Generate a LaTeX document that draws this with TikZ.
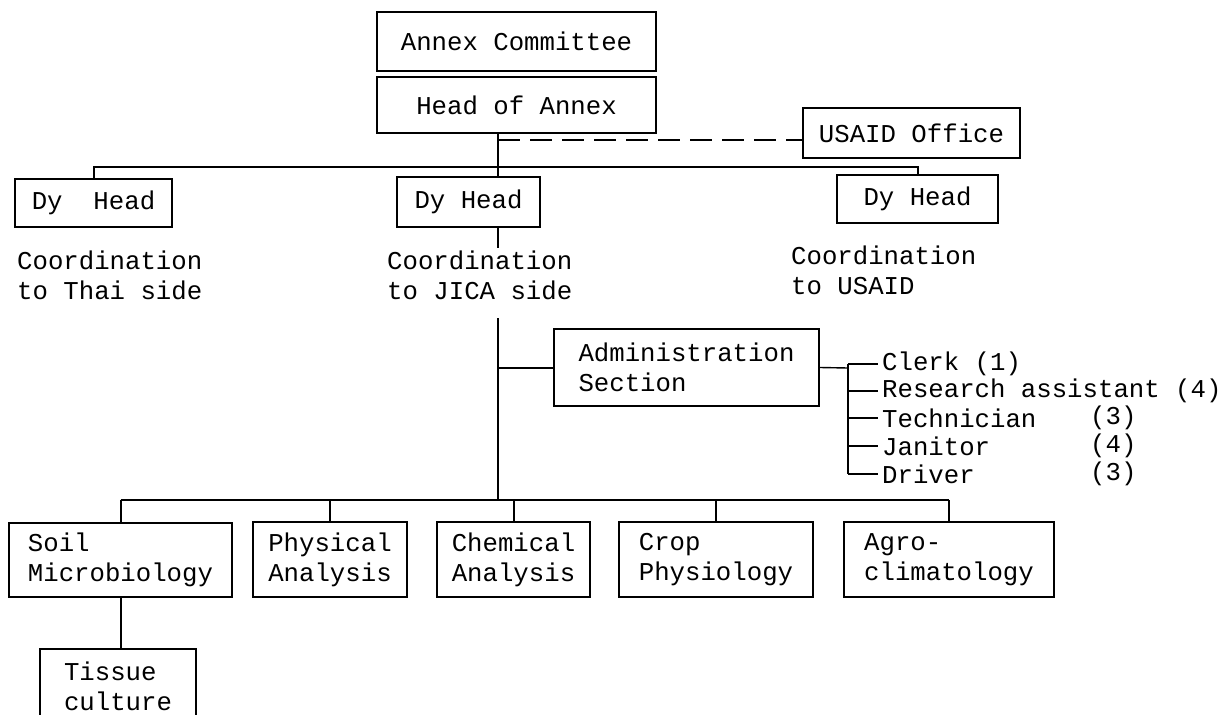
\documentclass[tikz,border=0pt]{standalone}
\usepackage{fontspec}
\setmainfont{Liberation Mono}
\usepackage{tikz}
\usetikzlibrary{positioning}
\tikzstyle{office} = [rectangle, draw=black, line width=2pt, inner xsep=10pt, inner ysep=0pt, text centered]
\tikzstyle{section} = [rectangle, draw=black, line width=2pt, inner xsep=10pt, inner ysep=0pt, align=left]
\tikzstyle{remark} = [inner sep=0pt, anchor=north west, align=left]
\tikzstyle{staff} = [inner sep=0pt, anchor=west]
\tikzstyle{link} = [line width=2pt]
\tikzstyle{thinlink} = [line width=1.4pt]

\begin{document}
\begin{tikzpicture}[x=1pt, y=-1pt, font=\fontsize{25.7}{30}\selectfont]

\useasboundingbox (0,0) rectangle (1224,715);
\clip (0,0) rectangle (1224,715);

% Top
\node (annex) [office, minimum width=279pt, minimum height=59pt] at (516.5,41.5) {Annex Committee};
\node (head) [office, minimum width=279pt, minimum height=56pt] at (516.5,105) {Head of Annex};
\node (usaid) [office, minimum width=217pt, minimum height=50pt] at (911.5,133) {USAID Office};

% Deputy heads
\node (dyl) [office, minimum width=157pt, minimum height=48pt] at (93.5,203) {Dy\ \ Head};
\node (dym) [office, minimum width=143pt, minimum height=50pt] at (468.5,202) {Dy Head};
\node (dyr) [office, minimum width=161pt, minimum height=48pt] at (917.5,199) {Dy Head};

\node (thai) [remark] at (17,251) {Coordination\\to Thai side};
\node (jica) [remark] at (387,251) {Coordination\\to JICA side};
\node (usaidnote) [remark] at (791,246) {Coordination\\to USAID};

% Administration
\node (admin) [section, minimum width=265pt, minimum height=77pt] at (686.5,367.5) {Administration\\Section};
\node (clerk) [staff] at (882,364) {Clerk (1)};
\node (research) [staff] at (882,391) {Research assistant (4)};
\node (tech) [staff] at (882,418) {Technician};
\node (technum) [staff] at (1090,418) {(3)};
\node (janitor) [staff] at (882,446) {Janitor};
\node (janitornum) [staff] at (1090,446) {(4)};
\node (driver) [staff] at (882,474) {Driver};
\node (drivernum) [staff] at (1090,474) {(3)};

% Sections
\node (soil) [section, minimum width=223pt, minimum height=74pt] at (120.5,560) {Soil\\Microbiology};
\node (phys) [section, minimum width=154pt, minimum height=75pt] at (330,559.5) {Physical\\Analysis};
\node (chem) [section, minimum width=153pt, minimum height=75pt] at (513.5,559.5) {Chemical\\Analysis};
\node (crop) [section, minimum width=194pt, minimum height=75pt] at (716,559.5) {Crop\\Physiology};
\node (agro) [section, minimum width=210pt, minimum height=75pt] at (949,559.5) {Agro-\\climatology};
\node (tissue) [section, minimum width=156pt, minimum height=74pt] at (118,686) {Tissue\\culture};

\coordinate (trunk) at (498,167);
\coordinate (dash) at (498,140);
\coordinate (trunkb) at (498,318);
\coordinate (bus) at (498,500);
\coordinate (bracket) at (848,368);

% Lines
\draw [link] (head.south -| trunk) -- (dym.north -| trunk);
\draw [thinlink, dash pattern=on 22pt off 10pt] (dash) -- (dash -| usaid.west);
\draw [link] (dyl.north) -- (dyl.north |- trunk) -- (dyr.north |- trunk) -- (dyr.north);

\draw [link] (dym.south -| trunk) -- ([yshift=3pt]jica.north -| trunk);
\draw [link] (trunkb) -- (bus);
\draw [link] (admin.west) -- (admin.west -| trunk);

\draw [thinlink] (admin.east) -- (bracket);
\draw [thinlink] (clerk.west -| bracket) -- (driver.west -| bracket);
\draw [thinlink] (clerk.west -| bracket) -- ([xshift=-4pt]clerk.west);
\draw [thinlink] (research.west -| bracket) -- ([xshift=-4pt]research.west);
\draw [thinlink] (tech.west -| bracket) -- ([xshift=-4pt]tech.west);
\draw [thinlink] (janitor.west -| bracket) -- ([xshift=-4pt]janitor.west);
\draw [thinlink] (driver.west -| bracket) -- ([xshift=-4pt]driver.west);

\draw [link] (soil.north |- bus) -- (agro.north |- bus);
\draw [link] (soil.north) -- (soil.north |- bus);
\draw [link] (phys.north) -- (phys.north |- bus);
\draw [link] (chem.north) -- (chem.north |- bus);
\draw [link] (crop.north) -- (crop.north |- bus);
\draw [link] (agro.north) -- (agro.north |- bus);
\draw [link] (soil.south) -- (soil.south |- tissue.north);

\end{tikzpicture}
\end{document}
